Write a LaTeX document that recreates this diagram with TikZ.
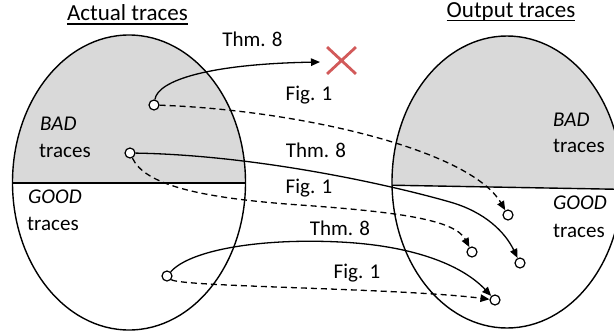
\documentclass[tikz,border=0pt]{standalone}
\usepackage{fontspec}
\setmainfont{Carlito}
\usetikzlibrary{arrows.meta,shapes.misc}
\definecolor{setgrey}{RGB}{217,217,217}
\definecolor{xred}{RGB}{210,90,90}
\begin{document}
\begin{tikzpicture}[x=1pt,y=-1pt,
  every node/.style={font=\fontsize{21}{25}\selectfont},
  setline/.style={line width=1.4pt},
  link/.style={line width=1.3pt,-{Triangle[length=9pt,width=7.5pt]}},
  dlink/.style={link,dash pattern=on 6pt off 4pt},
  trace/.style={circle,draw,fill=white,line width=1.2pt,minimum size=10pt,inner sep=0pt},
  title/.style={anchor=base,inner sep=0pt,font=\fontsize{23}{27}\selectfont},
  uline/.style={line width=1.2pt},
  lab/.style={anchor=base,inner sep=0pt},
  side/.style={anchor=base west,inner sep=0pt}]
\useasboundingbox (0,0) rectangle (614,335);
\clip (0,0) rectangle (614,335);

% actual traces: grey BAD half above the divider
\begin{scope}
  \clip (129,182.5) ellipse [x radius=116.5pt, y radius=147.5pt];
  \fill[setgrey] (0,0) rectangle (260,183);
  \draw[setline] (0,183) -- (260,183);
\end{scope}
\draw[setline] (129,182.5) ellipse [x radius=116.5pt, y radius=147.5pt];

% output traces
\begin{scope}
  \clip (507,182) ellipse [x radius=115pt, y radius=146pt];
  \fill[setgrey] (380,0) -- (630,0) -- (630,189.5) -- (380,185) -- cycle;
  \draw[setline] (380,185) -- (630,189.5);
\end{scope}
\draw[setline] (507,182) ellipse [x radius=115pt, y radius=146pt];

% titles
\node[title] (tA) at (127.5,20.5) {Actual traces};
\draw[uline] ([yshift=-3.5pt]tA.base west) -- ([yshift=-3.5pt]tA.base east);
\node[title] (tO) at (511,17) {Output traces};
\draw[uline] ([yshift=-3.5pt]tO.base west) -- ([yshift=-3.5pt]tO.base east);

% set labels
\node[side] (badA)  at (40,130)  {\textit{BAD}};
\node[side] (badAt) at (39,157)  {traces};
\node[side] (gdA)   at (28,203)  {\textit{GOOD}};
\node[side] (gdAt)  at (27,230)  {traces};
\node[side] (badO)  at (553,126) {\textit{BAD}};
\node[side] (badOt) at (553,152) {traces};
\node[side] (gdO)   at (553,209) {\textit{GOOD}};
\node[side] (gdOt)  at (553,237) {traces};

% traces
\node[trace] (c1) at (154,105) {};
\node[trace] (c2) at (130,153) {};
\node[trace] (c3) at (167,276) {};
\node[trace] (c4) at (508,215) {};
\node[trace] (c5) at (520,263) {};
\node[trace] (c6) at (472,252) {};
\node[trace] (c7) at (495,300) {};

% rejected trace
\node[cross out,draw=xred,line width=2.8pt,minimum width=26pt,minimum height=24pt,inner sep=0pt] (fail) at (341.5,60.5) {};
\coordinate (failtip) at (320,62);

% mappings
\draw[link]  (c1) .. controls (158,80) and (210,64) .. (failtip);
\draw[dlink] (c1) .. controls (300,110) and (470,150) .. (c4);
\draw[link]  (c2) .. controls (250,155) and (380,182) .. (450,202)
                  .. controls (485,212) and (505,232) .. (c5);
\draw[dlink] (c2) .. controls (145,185) and (200,198) .. (300,205)
                  .. controls (400,212) and (455,220) .. (c6);
\draw[link]  (c3) .. controls (190,250) and (260,238) .. (340,242)
                  .. controls (420,246) and (465,268) .. (c7);
\draw[dlink] (c3) .. controls (180,287) and (400,288) .. (c7);

% arrow labels
\node[lab] (l1) at (252.5,46.5) {Thm. 8};
\node[lab] (l2) at (309,100)    {Fig. 1};
\node[lab] (l3) at (316,157)    {Thm. 8};
\node[lab] (l4) at (309,193)    {Fig. 1};
\node[lab] (l5) at (340,235)    {Thm. 8};
\node[lab] (l6) at (357,278)    {Fig. 1};
\end{tikzpicture}
\end{document}
